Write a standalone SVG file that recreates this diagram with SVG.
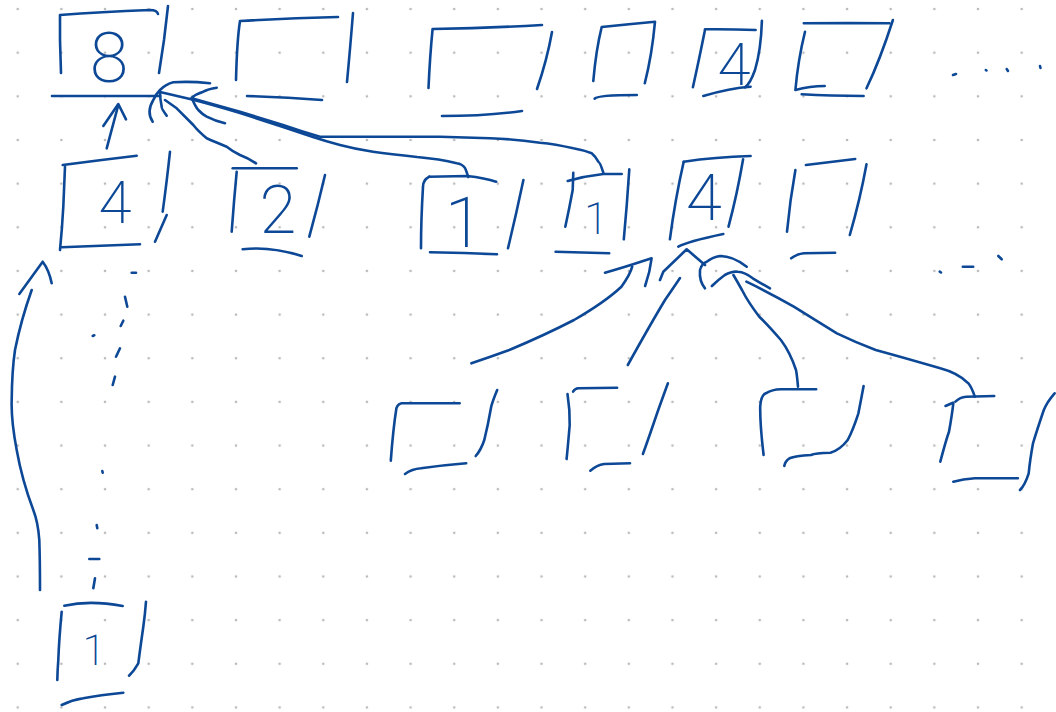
<svg xmlns="http://www.w3.org/2000/svg" width="1056" height="712" viewBox="0 0 1056 712">
<defs>
<pattern id="grid" x="-4.1" y="-12.8" width="43.65" height="43.65" patternUnits="userSpaceOnUse">
<circle cx="21.8" cy="21.8" r="1.3" fill="#b9b9b9"/>
</pattern>
<style>
.s{fill:none;stroke:#0d4896;stroke-width:2.6;stroke-linecap:round;stroke-linejoin:round}
.d{font-family:Roboto,Inter,Lato,"Liberation Sans",sans-serif;font-weight:200;fill:#0d4896;text-anchor:middle}
</style>
</defs>
<rect width="1056" height="712" fill="#ffffff"/>
<rect width="1056" height="712" fill="url(#grid)"/>

<g id="n-top1" class="s">
<path d="M61,73 L60,40 L60,15 Q100,12 150,10 Q157,10 158,14"/>
<path d="M168,6 L164,40 L159,73"/>
<path d="M52,96 L160,96"/>
<text class="d" x="109" y="82" font-size="70" stroke="none">8</text>
</g>
<g id="n-top2" class="s">
<path d="M236,80 Q237,40 240,21 Q290,18 338,17"/>
<path d="M353,13 Q350,50 347,82"/>
<path d="M247,96 Q285,97 322,100"/>
</g>
<g id="n-top3" class="s">
<path d="M428.5,88 Q430,55 432.6,29 Q490,28 542,25"/>
<path d="M552,32 Q547,60 537,89"/>
<path d="M442,116 Q485,116 522,111"/>
</g>
<g id="n-top4" class="s">
<path d="M593.3,81 Q596,50 601.7,27 Q630,24 655,21.7 Q652,55 644.8,83.3"/>
<path d="M594.6,98.7 Q597,95 636.8,95"/>
</g>
<g id="n-top5" class="s">
<path d="M692.9,87.3 Q700,55 704.6,31.7 L705,29.3 Q730,29 755.6,30"/>
<path d="M761.9,20.7 Q761,50 755,70 Q750,84 745,87.3"/>
<path d="M703.3,96 Q730,88 750.6,86.7"/>
<text class="d" x="734" y="85" font-size="60" stroke="none">4</text>
</g>
<g id="n-top6" class="s">
<path d="M805,31.7 Q798,60 795.4,90 Q810,86 824.7,86"/>
<path d="M803.8,23.3 Q850,23 889.5,23.3"/>
<path d="M892.9,20 Q880,60 866.5,88.3"/>
<path d="M801.7,94.3 Q830,96 863.6,96"/>
</g>
<g id="ellipsis-top" class="s">
<path d="M953,75 L956,74"/>
<path d="M985.8,70 L986.5,70.5"/>
<path d="M1006.7,69 L1008,71"/>
<path d="M1040,66 L1040.5,68"/>
</g>

<g id="n-r2-1" class="s">
<path d="M62.7,165 Q100,160 136.7,155.7"/>
<path d="M65,166.7 Q64,190 63.3,206.7 Q62,230 60,250"/>
<path d="M61.7,247.3 Q100,246 140,244.3"/>
<path d="M170,151.7 Q167,180 162.7,211.7"/>
<path d="M166.7,215 L155,241.7"/>
<text class="d" x="115" y="223" font-size="60" stroke="none">4</text>
</g>
<g id="n-r2-2" class="s">
<path d="M232.7,168.3 L296.7,168.3"/>
<path d="M236.7,171.7 Q234,200 231.7,231.7"/>
<path d="M325,175 Q318,205 309.3,236.7"/>
<path d="M242.7,249.3 Q270,246 301.7,256"/>
<text class="d" x="278" y="233" font-size="67" stroke="none">2</text>
</g>
<g id="n-r2-3" class="s">
<path d="M429.3,176.7 Q423,180 423,186.7 Q421,220 421,248.3"/>
<path d="M429.3,176.7 L467,176 Q485,178 496.2,181.7"/>
<path d="M523.4,180 Q516,215 508,248.3"/>
<path d="M430,252.3 Q465,253 497,254.3"/>
<text class="d" x="464" y="247" font-size="70" stroke="none">1</text>
</g>
<g id="n-r2-4" class="s">
<path d="M573.3,172.7 L572.7,190 Q569,210 565.3,226.7"/>
<path d="M567.7,181 Q585,176 603.3,174 L621.7,174"/>
<path d="M629.3,169.3 Q627,205 623.8,239.3"/>
<path d="M555.6,251.7 L609.2,253.3"/>
<text class="d" x="596" y="234" font-size="44" stroke="none">1</text>
</g>
<g id="n-r2-5" class="s">
<path d="M683.7,161.7 Q715,157 750.6,156"/>
<path d="M683.7,161.7 Q675,200 669.9,239.3"/>
<path d="M743.1,159.3 Q737,195 728.5,226.7"/>
<path d="M678.3,246.7 Q686.7,241.7 723.3,234"/>
<text class="d" x="704" y="220" font-size="65" stroke="none">4</text>
</g>
<g id="n-r2-6" class="s">
<path d="M805.9,165 L855.2,159"/>
<path d="M795.4,170 Q790,200 787,231.7"/>
<path d="M866.5,164.3 Q860,200 849.8,235"/>
<path d="M791.2,258.3 Q797,254 803.8,253.3 L835.1,252.7"/>
</g>
<g id="ellipsis-r2" class="s">
<path d="M939.7,271.7 L941,272.5"/>
<path d="M962.8,266.7 L973.2,266.7"/>
<path d="M998.3,256 L1001.7,259.3"/>
</g>

<g id="n-r3-1" class="s">
<path d="M390.8,460.7 Q393,430 396.4,408.3 Q398,404 401.6,403.3 L459.7,403.3"/>
<path d="M497.2,390 Q493,400 491.2,406.7 Q488,425 484.3,440 Q481,450 475.7,456"/>
<path d="M405,474 Q412,469 421,468.3 Q445,465 466.2,463.3"/>
</g>
<g id="n-r3-2" class="s">
<path d="M567.5,394 Q570,410 569.7,425 Q568,445 566.6,459"/>
<path d="M573.1,391.7 Q575,388.5 578.3,388.3 L617.1,387.7"/>
<path d="M667.9,383.3 Q660,405 655.9,416.7 Q648,440 642.9,454"/>
<path d="M590.3,470.7 Q597,465 604.1,464 L630,463.3"/>
</g>
<g id="n-r3-3" class="s">
<path d="M763.6,455 Q760,425 760.2,406.7 Q761,395 765.8,393.3 Q772,389.5 780.9,389.3 L816.2,389.3"/>
<path d="M863.6,386 Q861,400 858.4,413.3 Q853,430 847.7,440 Q840,450 830.4,452.7 Q815,453 811,455 Q795,456 789.5,458.3 Q785,461 784.3,466"/>
</g>
<g id="n-r3-4" class="s">
<path d="M955.4,401.7 Q960,397 966.2,396.7 L994.2,396"/>
<path d="M940.3,461.7 Q946,440 949,431.7 Q952,415 953.3,403.3"/>
<path d="M945.5,406 L953,402.7"/>
<path d="M1054.6,393.3 Q1047,402 1043.8,410 Q1037,430 1033,443.3 Q1030,460 1028.7,473.3 Q1025,485 1020,490"/>
<path d="M953.3,481.7 Q963,479 974.8,478.3 L1017.9,478.3"/>
</g>

<g id="n-bottom" class="s">
<path d="M64.3,605.7 Q90,600 122.7,606"/>
<path d="M61.7,611.7 Q59,640 58.3,660 Q57.5,670 57.3,680"/>
<path d="M146,601.7 Q145,615 143.3,626.7 Q140,650 138.3,663.3 Q134,671 129,675.7"/>
<path d="M61.7,705 Q72,700 83.3,698.3 Q100,695 123.3,692.7"/>
<text class="d" x="94" y="665" font-size="42" stroke="none">1</text>
</g>

<g id="connectors" class="s">
<path d="M106.7,148.3 L118.3,105"/>
<path d="M103.3,126 L118.3,104 L126,119.3"/>
<path d="M256,163.3 Q248,158 240,155 Q232,151 226.7,146.7 Q215,142 206.7,138.3 Q198,131 193.3,125 L176.7,108.3 L165,100"/>
<path d="M468.3,177 Q466,170 465,168 Q462,164 456.7,163.3 Q440,159 417,157 Q390,154 373,151.7 Q355,149 340,145 Q325,141 313,137 Q295,131 283,127 L240,113 Q210,104 190,99 L160,92"/>
<path d="M603.3,172.7 Q600,162 598.3,161.7 Q595,156 591.7,153.3 Q583,150 573.3,148.3 Q555,144 540,142.7 Q515,139 490,138.3 L440,136.7 L320,136.7 Q300,131 283,125 L240,111.7 L191.7,98.3"/>
<path d="M152.7,121.7 Q146,112 153.3,100 Q156,94 160,90 Q166,84 173.3,82.3 Q190,81 210,83.3"/>
<path d="M166.7,115.7 Q161,108 161.7,106.7 Q160,98 160,91.7"/>
<path d="M216.7,87.7 Q208,89 203.3,91.7 Q196,94 191.7,97.7 Q195,106 198.3,110 Q202,114 206.7,116.7 Q215,121 225,123.3"/>
<path d="M40,590 Q40,560 39.3,540 Q38,522 33.3,510 Q22,480 16.7,450 Q11,420 11.7,400 Q12,370 15,350 Q21,320 31.7,290"/>
<path d="M19.3,294 L42.7,261.7 Q49,270 51.7,283.3"/>
<path d="M131.7,272.7 L136,272.7"/>
<path d="M125,296.7 L127.3,306.7"/>
<path d="M123.3,320.7 L120.7,326"/>
<path d="M92.7,336 L94.3,335.3"/>
<path d="M120,348.3 L116,356.7"/>
<path d="M115,376.7 L112.7,385"/>
<path d="M102.3,471 L102.7,472.7"/>
<path d="M96.7,525 L97.3,528.3"/>
<path d="M89.3,559 L99.3,559"/>
<path d="M95,578.3 L93.3,588.3"/>
<path d="M471.4,363.3 Q490,357 509.3,350 Q545,335 574,320 Q605,302 621.4,286.7 Q630,275 632.2,266.7"/>
<path d="M605,272.7 Q625,267 640,262 L651.6,258.3 Q650,272 645.1,286"/>
<path d="M627.8,365 Q650,325 665,300 Q676,284 680,278"/>
<path d="M660,280 L663.3,271.7 L686.7,249.3 L705,265"/>
<path d="M705,288.3 Q699,281 700,270 Q702,263 706.7,261.7 Q713,257 720,256 Q733,256 746.7,266.7"/>
<path d="M798,386.7 Q797,375 796,370 Q790,352 780.9,340 Q768,325 759.3,316.7 Q748,302 742,290 Q737,281 733.4,275"/>
<path d="M711.9,286 Q718,280 724.8,275 Q732,271 737.8,271.7 Q745,272 752.8,278.3 Q762,284 770,288.3"/>
<path d="M974.8,396.7 Q972,388 968.4,383.3 Q958,373 940.3,368.3 Q905,358 875.7,350 Q855,342 836.9,333.3 Q815,320 793.8,306.7 Q770,293 746.4,281.7"/>
</g>
</svg>
